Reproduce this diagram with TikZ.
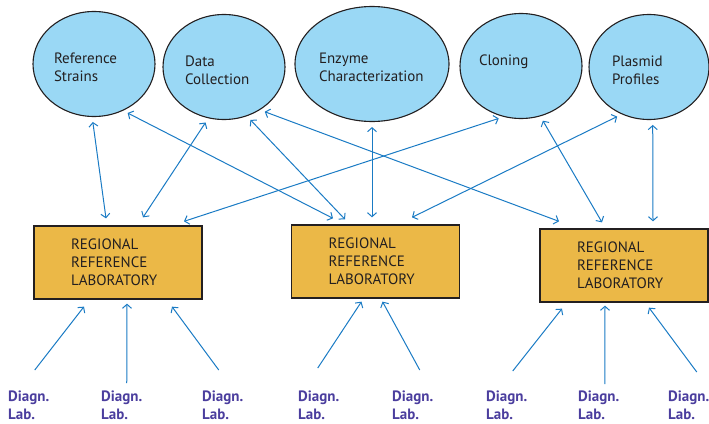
\documentclass[tikz,border=0pt]{standalone}
\usepackage{fontspec}
\setmainfont{PT Sans}
\usetikzlibrary{shapes.geometric,arrows.meta}

\definecolor{blobblue}{HTML}{9AD8F5}
\definecolor{labgold}{HTML}{EBB847}
\definecolor{linkblue}{HTML}{1A7BC4}
\definecolor{diagpurple}{HTML}{4B3E9E}
\definecolor{inkgray}{HTML}{231F20}

\tikzset{
  blob/.style={ellipse,draw=inkgray,line width=1.1pt,fill=blobblue,inner sep=0pt,
    align=left,text=inkgray,font=\fontsize{15}{18}\selectfont,
    execute at begin node={\rule{0pt}{17pt}}},
  reflab/.style={rectangle,draw=inkgray,line width=1.3pt,fill=labgold,
    minimum width=168pt,minimum height=73pt,inner sep=0pt,text width=94pt,
    align=left,text=inkgray,font=\fontsize{15}{18}\selectfont},
  diag/.style={anchor=north west,inner sep=0pt,align=left,text=diagpurple,
    font=\bfseries\fontsize{15}{18}\selectfont},
  link/.style={draw=linkblue,line width=1pt,>={Straight Barb[length=4pt,width=9pt]}},
}

\begin{document}
\begin{tikzpicture}[x=1pt,y=-1pt]
  \useasboundingbox (0,0) rectangle (709,423);
  % services
  \node[blob,minimum width=122pt,minimum height=105pt,text width=80pt]  (rs) at (94,64)  {Reference\\Strains};
  \node[blob,minimum width=122pt,minimum height=105pt,text width=78pt]  (dc) at (224,67) {Data\\Collection};
  \node[blob,minimum width=154pt,minimum height=115pt,text width=106pt] (ec) at (372,64) {Enzyme\\Characterization};
  \node[blob,minimum width=122pt,minimum height=105pt,text width=84pt]  (cl) at (521,66) {Cloning\\\mbox{}};
  \node[blob,minimum width=120pt,minimum height=105pt,text width=74pt]  (pp) at (649,67) {Plasmid\\Profiles};
  % regional labs
  \node[reflab] (b1) at (118,262.5) {REGIONAL\\REFERENCE\\LABORATORY};
  \node[reflab] (b2) at (375.5,261.5) {REGIONAL\\REFERENCE\\LABORATORY};
  \node[reflab] (b3) at (624,265.5) {REGIONAL\\REFERENCE\\LABORATORY};
  % diagnostic labs
  \node[diag] (dl1) at (8,391)   {Diagn.\\Lab.};
  \node[diag] (dl2) at (101,391) {Diagn.\\Lab.};
  \node[diag] (dl3) at (202,391) {Diagn.\\Lab.};
  \node[diag] (dl4) at (298,391) {Diagn.\\Lab.};
  \node[diag] (dl5) at (392,391) {Diagn.\\Lab.};
  \node[diag] (dl6) at (486,391) {Diagn.\\Lab.};
  \node[diag] (dl7) at (578,391) {Diagn.\\Lab.};
  \node[diag] (dl8) at (668,391) {Diagn.\\Lab.};
  \begin{scope}[every path/.style={link,<->,shorten <=5pt}]
     \draw (rs.-92)  -- ([shift={(-12,-7)}]b1.north);
     \draw (dc.-107) -- ([shift={(25,-8)}]b1.north);
     \draw (cl.-109) -- ([shift={(66,-4)}]b1.north);
     \draw (rs.-58)  -- ([shift={(-42.5,-6)}]b2.north);
     \draw (dc.-65)  -- ([shift={(-30.5,-5)}]b2.north);
     \draw (ec.south) -- ([shift={(-3.5,-7)}]b2.north);
     \draw (pp.-120) -- ([shift={(36.5,-7)}]b2.north);
     \draw (dc.-50)  -- ([shift={(-65,-7)}]b3.north);
     \draw (cl.-69)  -- ([shift={(-22,-6)}]b3.north);
     \draw (pp.-86)  -- ([shift={(29,-7)}]b3.north);
  \end{scope}
  \begin{scope}[every path/.style={link,->}]
     \draw ([shift={(6,-21)}]dl1.north)  -- ([shift={(-34,7)}]b1.south);
     \draw ([shift={(5,-8)}]dl2.north)   -- ([shift={(9,4)}]b1.south);
     \draw ([shift={(-4,-21)}]dl3.north) -- ([shift={(54,7)}]b1.south);
     \draw ([shift={(-1,-23)}]dl4.north) -- ([shift={(-14,3)}]b2.south);
     \draw ([shift={(7,-21)}]dl5.north)  -- ([shift={(7,3)}]b2.south);
     \draw ([shift={(6,-20)}]dl6.north)  -- ([shift={(-62,6)}]b3.south);
     \draw ([shift={(6,-7)}]dl7.north)   -- ([shift={(-19,3)}]b3.south);
     \draw ([shift={(8,-19)}]dl8.north)  -- ([shift={(25,5)}]b3.south);
  \end{scope}
\end{tikzpicture}
\end{document}
